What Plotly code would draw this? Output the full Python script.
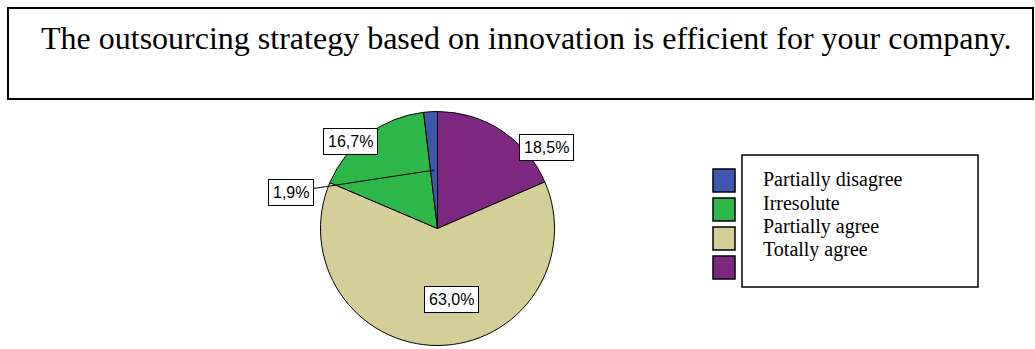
import math
import plotly.graph_objects as go

# Survey answers in legend order
categories = ["Partially disagree", "Irresolute", "Partially agree", "Totally agree"]
percentages = [1.9, 16.7, 63.0, 18.5]
colors = ["#3D58AC", "#2EB849", "#D4CF99", "#7B287E"]
title_text = "The outsourcing strategy based on innovation is efficient for your company."

W, H = 1035, 349


def px_x(x):
    return x / W


def px_y(y):
    return 1 - y / H


# Pie geometry in pixels
cx, cy, R = 437.5, 228.5, 117.0

# Slices run clockwise from 12 o'clock, last category first
pie_labels = categories[::-1]
pie_values = percentages[::-1]
pie_colors = colors[::-1]

fig = go.Figure(
    go.Pie(
        labels=pie_labels,
        values=pie_values,
        sort=False,
        direction="clockwise",
        rotation=0,
        marker=dict(colors=pie_colors, line=dict(color="#000000", width=1)),
        textinfo="none",
        hoverinfo="label+percent",
        showlegend=False,
        domain=dict(x=[px_x(cx - R), px_x(cx + R)], y=[px_y(cy + R), px_y(cy - R)]),
    )
)

shapes = []
annotations = []

# Boxed title
shapes.append(dict(type="rect", xref="paper", yref="paper",
                   x0=px_x(8), x1=px_x(1033), y0=px_y(99), y1=px_y(8),
                   line=dict(color="#000000", width=2), fillcolor="rgba(0,0,0,0)"))
annotations.append(dict(text=title_text, xref="paper", yref="paper",
                        x=px_x(526), y=px_y(38), xanchor="center", yanchor="middle",
                        showarrow=False,
                        font=dict(family="Liberation Serif", size=32, color="#000000")))

# Percentage labels in white boxes (label centres, pie order)
label_pos = [(546, 147), (451.5, 299), (350, 141.5), (290.5, 192)]
label_font = dict(family="Liberation Sans", size=16, color="#000000")
start = 0.0
for val, (lx, ly) in zip(pie_values, label_pos):
    mid = math.radians(start + val * 3.6 / 2)
    start += val * 3.6
    txt = f"{val:.1f}%".replace(".", ",")
    ann = dict(text=txt, xref="paper", yref="paper", x=px_x(lx), y=px_y(ly),
               xanchor="center", yanchor="middle", showarrow=False,
               font=label_font, bgcolor="#FFFFFF", bordercolor="#000000",
               borderwidth=1, borderpad=4)
    if val < 5:
        # leader line from the label to the thin slice
        tx = cx + 0.5 * R * math.sin(mid)
        ty = cy - 0.5 * R * math.cos(mid)
        ann.update(showarrow=True, arrowhead=0, arrowwidth=1, arrowcolor="#000000",
                   x=px_x(tx), y=px_y(ty), ax=lx - tx, ay=ly - ty)
    annotations.append(ann)

# Legend: colour keys outside a framed list of names
shapes.append(dict(type="rect", xref="paper", yref="paper",
                   x0=px_x(742), x1=px_x(978), y0=px_y(287), y1=px_y(155),
                   line=dict(color="#000000", width=1.5), fillcolor="rgba(0,0,0,0)"))
for i, (name, col) in enumerate(zip(categories, colors)):
    top = 169 + i * 29
    shapes.append(dict(type="rect", xref="paper", yref="paper",
                       x0=px_x(713), x1=px_x(735), y0=px_y(top + 23), y1=px_y(top),
                       line=dict(color="#000000", width=1.5), fillcolor=col))
    base = 186 + i * 23.4
    annotations.append(dict(text=name, xref="paper", yref="paper",
                            x=px_x(761), y=px_y(base - 6.5), xanchor="left", yanchor="middle",
                            showarrow=False,
                            font=dict(family="Liberation Serif", size=20, color="#000000")))

fig.update_layout(
    width=W, height=H,
    margin=dict(l=0, r=0, t=0, b=0),
    paper_bgcolor="#FFFFFF", plot_bgcolor="#FFFFFF",
    shapes=shapes, annotations=annotations,
)

fig.write_html("out.html")
